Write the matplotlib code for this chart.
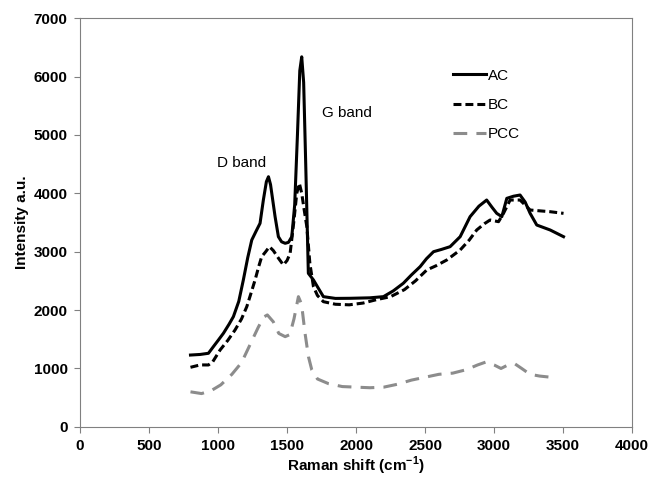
import matplotlib
matplotlib.use("Agg")
import matplotlib.pyplot as plt

plt.rcParams['font.family'] = ['Liberation Sans', 'DejaVu Sans']
plt.rcParams['mathtext.fontset'] = 'custom'
plt.rcParams['mathtext.rm'] = 'Liberation Sans:bold'
plt.rcParams['mathtext.bf'] = 'Liberation Sans:bold'

# Raman spectra
ac_x = [800, 870, 930, 966, 1000, 1039, 1080, 1111, 1150, 1183, 1215, 1244, 1275, 1304,
        1328, 1350, 1365, 1380, 1413, 1437, 1460, 1486, 1510, 1534, 1555, 1575, 1592,
        1606, 1620, 1635, 1654, 1691, 1720, 1763, 1850, 1957, 2100, 2198, 2270, 2342,
        2400, 2464, 2510, 2561, 2620, 2681, 2754, 2826, 2890, 2946, 2985, 3019, 3056,
        3092, 3140, 3188, 3225, 3261, 3309, 3406, 3503]
ac_y = [1230, 1240, 1260, 1374, 1480, 1604, 1760, 1888, 2150, 2516, 2900, 3200, 3350, 3486,
        3885, 4200, 4284, 4150, 3600, 3257, 3170, 3144, 3160, 3257, 3800, 5000, 6100,
        6338, 5900, 4500, 2630, 2516, 2400, 2230, 2200, 2202, 2210, 2230, 2330, 2459,
        2600, 2744, 2880, 3000, 3040, 3086, 3257, 3600, 3780, 3885, 3760, 3657, 3600,
        3914, 3950, 3971, 3850, 3657, 3457, 3372, 3257]

bc_x = [800, 870, 930, 960, 1015, 1070, 1123, 1170, 1208, 1240, 1268, 1295, 1316, 1345,
        1372, 1400, 1440, 1473, 1500, 1522, 1548, 1570, 1589, 1606, 1625, 1643, 1665,
        1691, 1720, 1763, 1850, 1950, 2050, 2150, 2250, 2350, 2430, 2512, 2580, 2657,
        2754, 2820, 2874, 2930, 2971, 3032, 3068, 3116, 3188, 3261, 3330, 3406, 3503]
bc_y = [1020, 1061, 1060, 1110, 1318, 1480, 1660, 1850, 2059, 2300, 2516, 2750, 2915, 3000,
        3086, 3020, 2880, 2773, 2850, 2973, 3500, 4000, 4171, 4000, 3700, 3428, 2800,
        2401, 2250, 2144, 2100, 2090, 2120, 2180, 2230, 2350, 2500, 2687, 2760, 2858,
        3029, 3200, 3372, 3480, 3543, 3514, 3657, 3885, 3885, 3714, 3700, 3685, 3657]

pcc_x = [800, 880, 950, 1020, 1100, 1170, 1230, 1290, 1330, 1357, 1400, 1440, 1486, 1520,
         1550, 1582, 1605, 1630, 1655, 1679, 1720, 1800, 1900, 2000, 2100, 2200, 2300,
         2400, 2500, 2600, 2700, 2800, 2880, 2940, 3000, 3050, 3100, 3150, 3200, 3260,
         3330, 3450]
pcc_y = [600, 570, 620, 720, 900, 1100, 1400, 1700, 1880, 1917, 1800, 1600, 1545, 1580,
         1850, 2230, 2100, 1603, 1200, 975, 820, 740, 690, 680, 670, 680, 730,
         800, 850, 900, 920, 980, 1060, 1110, 1060, 1000, 1060, 1080, 1000, 900,
         870, 840]

fig = plt.figure(figsize=(6.51, 4.78), dpi=100)
ax = fig.add_axes([0.123, 0.107, 0.848, 0.855])

ax.plot(ac_x, ac_y, color='black', lw=2.2, label='AC')
ax.plot(bc_x, bc_y, color='black', lw=2.2, ls=(0, (2.6, 1.3)), label='BC')
ax.plot(pcc_x, pcc_y, color='#8c8c8c', lw=2.2, ls=(0, (4.5, 3)), label='PCC')

ax.text(990, 4450, 'D band', fontsize=11)
ax.text(1750, 5300, 'G band', fontsize=11)

ax.set_xlim(0, 4000)
ax.set_ylim(0, 7000)
xt = list(range(0, 4001, 500))
yt = list(range(0, 7001, 1000))
ax.set_xticks(xt, labels=[str(v) for v in xt], fontweight='bold', fontsize=11)
ax.set_yticks(yt, labels=[str(v) for v in yt], fontweight='bold', fontsize=11)
ax.tick_params(direction='out', length=4, color='#808080', pad=5)
for s in ax.spines.values():
    s.set_color('#808080')

ax.set_xlabel(r'Raman shift (cm$^{-1}$)', fontsize=11, fontweight='bold', labelpad=1)
ax.set_ylabel('Intensity a.u.', fontsize=11, fontweight='bold', labelpad=3)

ax.legend(loc='upper left', bbox_to_anchor=(0.65, 0.91), frameon=False,
          handlelength=2.2, handletextpad=0.1, labelspacing=1.0, fontsize=11)

fig.savefig('out.png', dpi=100)
